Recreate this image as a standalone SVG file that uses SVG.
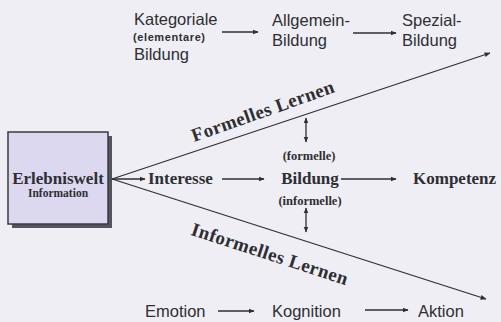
<svg xmlns="http://www.w3.org/2000/svg" width="501" height="322" viewBox="0 0 501 322">
<style>
.sans{font-family:"Liberation Sans",Arial,sans-serif;font-size:16.5px;fill:#2e2e33}
.small{font-family:"Liberation Sans",Arial,sans-serif;font-size:11px;font-weight:bold;fill:#2e2e33;letter-spacing:0.6px}
.serif{font-family:"Liberation Serif","Times New Roman",serif;font-weight:bold;font-size:17px;fill:#2e2e33}
.paren{font-family:"Liberation Serif","Times New Roman",serif;font-weight:bold;font-size:12.5px;fill:#2e2e33}
.lern{font-family:"Liberation Serif","Times New Roman",serif;font-weight:bold;font-size:19px;fill:#2e2e33;letter-spacing:0.4px}
.ln{stroke:#2e2e33;stroke-width:1.3;fill:none}
</style>
<defs>
<marker id="ah" viewBox="0 0 10 10" refX="9" refY="5" markerWidth="6" markerHeight="6" markerUnits="userSpaceOnUse" orient="auto-start-reverse">
<path d="M0,1 L10,5 L0,9 z" fill="#2e2e33"/>
</marker>
</defs>
<rect width="501" height="322" fill="#efeef5"/>

<g id="erlebniswelt">
<rect x="12" y="136" width="100" height="92" fill="#55545c"/>
<rect x="8" y="132" width="100" height="92" fill="#dcd8f0" stroke="#3a3a40" stroke-width="1.5"/>
<text class="serif" x="58" y="184" text-anchor="middle">Erlebniswelt</text>
<text class="serif" x="58" y="197" text-anchor="middle" style="font-size:11.5px">Information</text>
</g>

<g id="kategoriale">
<text class="sans" x="134" y="25">Kategoriale</text>
<text class="small" x="133" y="41">(elementare)</text>
<text class="sans" x="134" y="60">Bildung</text>
</g>
<g id="allgemein">
<text class="sans" x="272" y="26">Allgemein-</text>
<text class="sans" x="272" y="46">Bildung</text>
</g>
<g id="spezial">
<text class="sans" x="402" y="26">Spezial-</text>
<text class="sans" x="402" y="46">Bildung</text>
</g>

<g id="interesse"><text class="serif" x="148" y="184">Interesse</text></g>
<g id="bildung">
<text class="paren" x="309" y="160" text-anchor="middle">(formelle)</text>
<text class="serif" x="310" y="184" text-anchor="middle">Bildung</text>
<text class="paren" x="310" y="205" text-anchor="middle">(informelle)</text>
</g>
<g id="kompetenz"><text class="serif" x="413" y="184">Kompetenz</text></g>

<g id="emotion"><text class="sans" x="145" y="317">Emotion</text></g>
<g id="kognition"><text class="sans" x="272" y="317">Kognition</text></g>
<g id="aktion"><text class="sans" x="418" y="317">Aktion</text></g>

<g id="labels">
<text class="lern" transform="translate(265,117) rotate(-19.5)" text-anchor="middle">Formelles Lernen</text>
<text class="lern" transform="translate(268,260) rotate(18)" text-anchor="middle">Informelles Lernen</text>
</g>

<g id="connectors">
<line class="ln" x1="112" y1="179" x2="490" y2="53" marker-end="url(#ah)"/>
<line class="ln" x1="112" y1="179" x2="486" y2="299" marker-end="url(#ah)"/>
<line class="ln" x1="112" y1="179" x2="145" y2="179" marker-end="url(#ah)"/>
<line class="ln" x1="222" y1="179" x2="264" y2="179" marker-end="url(#ah)"/>
<line class="ln" x1="341" y1="179" x2="396" y2="179" marker-end="url(#ah)"/>
<line class="ln" x1="222" y1="32" x2="258" y2="32" marker-end="url(#ah)"/>
<line class="ln" x1="353" y1="33" x2="396" y2="33" marker-end="url(#ah)"/>
<line class="ln" x1="218" y1="311" x2="254" y2="311" marker-end="url(#ah)"/>
<line class="ln" x1="365" y1="310" x2="408" y2="310" marker-end="url(#ah)"/>
<line class="ln" x1="306" y1="118" x2="306" y2="142" marker-start="url(#ah)" marker-end="url(#ah)"/>
<line class="ln" x1="306" y1="208" x2="306" y2="232" marker-start="url(#ah)" marker-end="url(#ah)"/>
</g>
</svg>
